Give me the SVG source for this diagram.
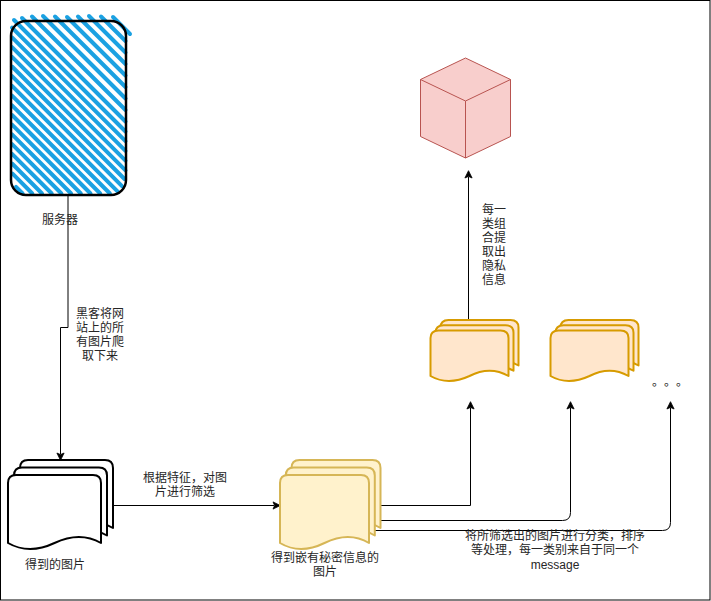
<svg xmlns="http://www.w3.org/2000/svg" xmlns:xlink="http://www.w3.org/1999/xlink" width="711" height="601" viewBox="0 0 711 601">
<style>
text{font-family:"Liberation Sans","Noto Sans CJK SC",sans-serif;font-size:12px;fill:#262626;text-anchor:middle}
.line{fill:none;stroke:#000;stroke-width:1}
.arrow{marker-end:url(#arr)}
.blackdoc{fill:#fff;stroke:#000;stroke-width:2;stroke-linejoin:round}
.yellowdoc{fill:#fff2cc;stroke:#d6b656;stroke-width:2;stroke-linejoin:round}
.orangedoc{fill:#ffe6cc;stroke:#d79b00;stroke-width:2;stroke-linejoin:round}
.cube{fill:#f8cecc;stroke:#b85450;stroke-width:1;stroke-linejoin:round}
.dot{text-anchor:start}
</style>
<defs>
<marker id="arr" markerUnits="userSpaceOnUse" markerWidth="12" markerHeight="12" refX="2" refY="6" orient="auto" viewBox="0 0 12 12">
<path d="M1 2.400 L8.300 6 L1 9.600 L2.600 6 Z" fill="#000" stroke="#000" stroke-width="0.800"/>
</marker>
<path id="d1" d="M8 543 V483 Q8 475 16 475 H93 Q101 475 101 483 V543 Q80 531 54.500 543 Q29 555 8 543 Z"/>
<path id="d2" d="M280 543 V483 Q280 475 288 475 H361 Q369 475 369 483 V543 Q349 531 324.500 543 Q300 555 280 543 Z"/>
<path id="d3" d="M430.500 376 V338 Q430.500 330.500 438.500 330.500 H500.500 Q508.500 330.500 508.500 338 V376 Q490 365.400 469.500 376 Q448 386 430.500 376 Z"/>
</defs>
<rect x="0.500" y="0.500" width="709.500" height="599.500" fill="#fff" stroke="#000"/>
<g id="connectors">
<path class="line arrow" d="M68 195 V327.500 H60.500 V454"/>
<path class="line arrow" d="M113 505.500 H274"/>
<path class="line arrow" d="M468.500 320 V177"/>
<path class="line arrow" d="M381 505.500 H470.500 V408"/>
<path class="line arrow" d="M370 520.500 H562.500 Q570.500 520.500 570.500 512.500 V408"/>
<path class="line arrow" d="M370 530.500 H662.500 Q670.500 530.500 670.500 522.500 V408"/>
</g>
<g id="server">
<path d="M113 17 L130 34 M101 16.500 L125.500 41 M89 16 L125.500 52.500 M78 16.500 L125.500 64 M67 17 L125.500 75.500 M55 16.500 L125.500 87 M43 16 L125.500 98.500 M32 16.500 L125.500 110 M22 18 L125.500 121.500 M14 20 L125.500 131.500 M12 27.700 L125.500 141.200 M12 37.400 L125.500 150.900 M12 47.100 L125.500 160.600 M12 56.800 L125.500 170.300 M12 66.500 L124.500 179 M12 76.200 L122 186.200 M12 85.900 L118 191.900 M12 95.600 L109.900 193.500 M12 105.300 L100.200 193.500 M12 115 L90.500 193.500 M12 124.700 L80.800 193.500 M12 134.400 L71.100 193.500 M12 144.100 L61.400 193.500 M12 153.800 L51.700 193.500 M12 163.500 L42 193.500 M12.500 173.700 L32.300 193.500 M16 186.900 L22.600 193.500" fill="none" stroke="#1ba1e2" stroke-width="4" stroke-linecap="round"/>
<rect x="11" y="21" width="115" height="174" rx="15" ry="15" fill="none" stroke="#000" stroke-width="2.500"/>
<text x="60" y="224">服务器</text>
</g>
<g id="scraped-images">
<use href="#d1" class="blackdoc" transform="translate(12,-15)"/>
<use href="#d1" class="blackdoc" transform="translate(6,-7.500)"/>
<use href="#d1" class="blackdoc"/>
<text x="55" y="569">得到的图片</text>
</g>
<g id="secret-images">
<use href="#d2" class="yellowdoc" transform="translate(11.500,-15)"/>
<use href="#d2" class="yellowdoc" transform="translate(5.800,-7.500)"/>
<use href="#d2" class="yellowdoc"/>
<text x="325" y="562">得到嵌有秘密信息的</text>
<text x="325" y="576">图片</text>
</g>
<g id="group-a">
<use href="#d3" class="orangedoc" transform="translate(10,-10.500)"/>
<use href="#d3" class="orangedoc" transform="translate(5,-5.250)"/>
<use href="#d3" class="orangedoc"/>
</g>
<g id="group-b">
<use href="#d3" class="orangedoc" transform="translate(130,-10.500)"/>
<use href="#d3" class="orangedoc" transform="translate(125,-5.250)"/>
<use href="#d3" class="orangedoc" transform="translate(120,0)"/>
</g>
<g id="cube">
<path class="cube" d="M465.500 58 L510.500 79.500 V136.500 L465.500 158 L420.500 136.500 V79.500 Z"/>
<path class="cube" style="fill:none" d="M420.500 79.500 L465.500 101 L510.500 79.500 M465.500 101 V158"/>
</g>
<g id="labels">
<text x="100" y="318">黑客将网</text>
<text x="100" y="332">站上的所</text>
<text x="100" y="346">有图片爬</text>
<text x="100" y="360">取下来</text>
<text x="185" y="482">根据特征，对图</text>
<text x="185" y="496">片进行筛选</text>
<text x="494" y="214">每一</text>
<text x="494" y="228">类组</text>
<text x="494" y="242">合提</text>
<text x="494" y="256">取出</text>
<text x="494" y="270">隐私</text>
<text x="494" y="284">信息</text>
<text x="555" y="540">将所筛选出的图片进行分类，排序</text>
<text x="555" y="554">等处理，每一类别来自于同一个</text>
<text x="555" y="569">message</text>
<text class="dot" x="652 664 676" y="386">。。。</text>
</g>
</svg>
